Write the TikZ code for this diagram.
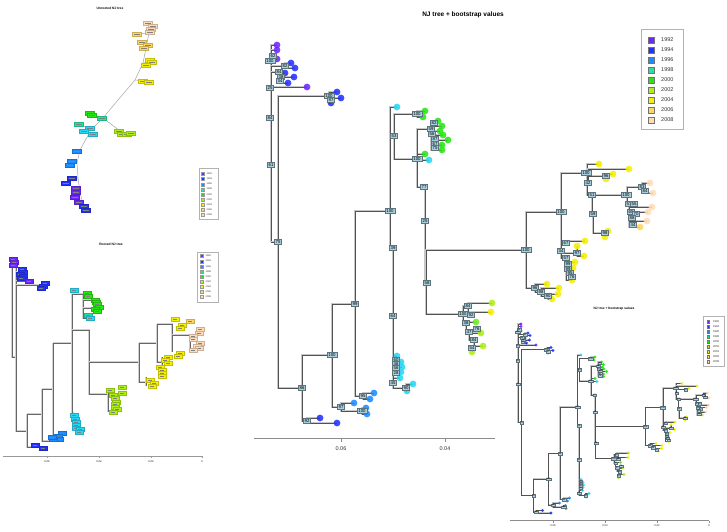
\documentclass[tikz,border=0pt]{standalone}
\usepackage{fontspec}
\setmainfont{Liberation Sans}
\definecolor{cA}{RGB}{110,40,255}
\definecolor{cB}{RGB}{35,50,255}
\definecolor{cC}{RGB}{30,140,255}
\definecolor{cD}{RGB}{30,230,160}
\definecolor{cE}{RGB}{40,230,20}
\definecolor{cF}{RGB}{175,240,20}
\definecolor{cG}{RGB}{245,240,0}
\definecolor{cH}{RGB}{255,215,95}
\definecolor{cI}{RGB}{255,220,185}
\definecolor{cX}{RGB}{40,215,245}
\definecolor{cEF}{RGB}{110,235,30}
\definecolor{bsfill}{RGB}{168,208,222}
\definecolor{bsdraw}{RGB}{95,115,125}
\tikzset{
 branch/.style={draw=black!68, line width=0.9pt, preaction={draw=black!22, line width=2.2pt}},
 tp/.style={circle, inner sep=0pt, minimum size=6.8pt, fill=#1, fill opacity=0.88},
 bs/.style={draw=bsdraw, fill=bsfill, line width=0.5pt, inner xsep=1.2pt, inner ysep=0.8pt, font=\fontsize{4.3}{4.3}\selectfont, text height=3.1pt, text depth=0pt},
 lsq/.style={draw=black!55, line width=0.4pt, minimum size=5.5pt, inner sep=0pt, fill=#1},
 ltx/.style={anchor=west, inner sep=0pt, font=\fontsize{5.5}{5.5}\selectfont, text=black!80},
 axl/.style={draw=black!45, line width=1pt},
 axt/.style={font=\fontsize{5.5}{5.5}\selectfont, text=black!80, inner sep=0pt},
 lb/.style={fill=#1, draw=#1!80!black, line width=0.2pt, minimum width=9pt, minimum height=4.2pt, inner sep=0pt,
   path picture={\fill[black!50] ([xshift=1.8pt,yshift=-0.4pt]path picture bounding box.west) rectangle ([xshift=-1.8pt,yshift=0.4pt]path picture bounding box.east);}},
 rlb/.style={lb=#1, minimum width=8pt, minimum height=3.6pt},
 ubr/.style={draw=black!35, line width=0.5pt},
 tbr/.style={draw=black!60, line width=0.5pt, preaction={draw=black!18, line width=1.3pt}},
 slsq/.style={fill=#1, draw=black!40, line width=0.15pt, minimum size=3pt, inner sep=0pt},
 sltx/.style={ltx, font=\fontsize{2.4}{2.4}\selectfont},
 ttl/.style={font=\bfseries\fontsize{3.3}{3.3}\selectfont, inner sep=0pt},
}
\newcommand\njplot[2]{%
 \node[font=\bfseries\fontsize{6.5}{7}\selectfont, inner sep=0pt] (title) at (463,15) {NJ tree + bootstrap values};
 \node[draw=black!30, line width=0.7pt, minimum width=42pt, minimum height=100pt, inner sep=0pt] (leg) at (662,79) {};
 \foreach \c/\yr [count=\i] in {cA/1992,cB/1994,cC/1996,cD/1998,cE/2000,cF/2002,cG/2004,cH/2006,cI/2008}{
   \node[lsq=\c] (lsq\i) at (651,30+10*\i) {};
   \node[ltx] (ltx\i) at (661,30+10*\i) {\yr};
 }
 \draw[axl] (254,438) -- (#1,438);
 \foreach \x/\l [count=\i] in {#2}{
   \draw[axl] (\x,438) -- (\x,442);
   \node[axt] (ax\i) at (\x,449) {\l};
 }
 \foreach \n/\x/\y in {rt/271/242, n75/278/242,
  t1/277/45, t2/277/50, t3/277/59, n82/285/66, t4/291/63, t5/295/68, n84/279/72, t6/285/73, n34/281/79, t7/294/77, t8/288/83, t9/307/87,
  n100a/329/96, t10/337/92, t11/341/98, t12/331/103,
  n86/302/388, n92/307/421, t13/320/418, t14/337/423,
  n100b/332/355, n97/341/407, t15/354/403, n100c/362/411, t16/366/408, t17/367/414,
  n99/355/304, n95/363/396, t18/374/393, t19/370/399,
  n100d/390/211, t20/397/107, n53/394/136, n100e/417/114, t21/425/111, t22/423/117,
  n100f/417/159, t23/425/154, t24/429/160, ngc/431/129,
  t25/438/121, t26/442/126, t27/440/131, t28/443/135, t29/448/140, t30/442/145, t31/442/150,
  n77/425/187, n25b/425/221, n58/426/283,
  n39/393/248, n64/393/316, t32/397/356, t33/401/362, t34/402/367, t35/401/372, t36/400/378, n45/393/383, n90/406/388, t37/413/384, t38/407/391,
  n100h/463/314, n84b/468/306, t39/492/303, t40/491/312, n38/466/323, t41/476/322, n47/469/332, t42/481/333, n84c/474/340, t43/483/346, n54/472/348, t44/472/352,
  n100g/526/250, n96/535/288, t45/547/284, n98/541/292, t46/559/288, n90b/548/296, t47/558/294, t48/552/299,
  n100i/561/212, n67/566/243, t49/585/241, n34b/561/251, n97b/577/253, t50/577/246, t51/584/256, n57/566/258, t52/575/262, t53/573/268, t54/572/280,
  n100j/587/173, t55/599/164, n42/588/183, t56/629/169, n96b/606/176, t57/613/174, t58/606/179, n51/592/195, n59/593/214, n98b/605/233, t59/608/231, t60/605/237,
  n100k/627/195, n83/642/187, t61/650/183, t62/653/193, n57b/629/204, t63/652/207, t64/648/212, t65/647/221, t66/640/227}
   \coordinate (\n) at (\x,\y);
 \foreach \a/\b in {rt/t1, rt/t2, rt/t3, rt/n82, rt/n84, rt/t9, rt/n75, n82/t4, n82/t5, n84/t6, n84/n34, n34/t7, n34/t8,
  n75/n100a, n75/n86, n100a/t10, n100a/t11, n100a/t12,
  n86/n92, n86/n100b, n92/t13, n92/t14, n100b/n99, n100b/n97, n97/t15, n97/n100c, n100c/t16, n100c/t17, n99/n95, n99/n100d, n95/t18, n95/t19,
  n100d/t20, n100d/n53, n53/n100e, n53/n100f, n100e/t21, n100e/t22, n100f/t23, n100f/t24, n100f/ngc, n100f/n77,
  ngc/t25, ngc/t26, ngc/t27, ngc/t28, ngc/t29, ngc/t30, ngc/t31, n77/n25b, n25b/n58,
  n100d/n39, n39/n64, n64/t32, n64/t33, n64/t34, n64/t35, n64/t36, n64/n45, n45/n90, n90/t37, n90/t38,
  n58/n100h, n58/n100g, n100h/n84b, n84b/t39, n84b/t40, n100h/n38, n38/t41, n38/n47, n47/t42, n47/n84c, n84c/t43, n84c/n54, n54/t44,
  n100g/n100i, n100g/n96, n96/t45, n96/n98, n98/t46, n98/n90b, n90b/t47, n90b/t48,
  n100i/n100j, n100i/n67, n67/t49, n100i/n34b, n34b/n97b, n97b/t50, n97b/t51, n34b/n57, n57/t52, n57/t53, n57/t54,
  n100j/t55, n100j/n42, n42/t56, n42/n96b, n96b/t57, n96b/t58, n100j/n51, n51/n100k, n51/n59, n59/n98b, n98b/t59, n98b/t60,
  n100k/n83, n83/t61, n83/t62, n100k/n57b, n57b/t63, n57b/t64, n57b/t65, n57b/t66}
   \draw[branch] (\a) |- (\b);
 \foreach \n/\c in {t1/cA,t2/cA,t3/cA,t4/cB,t5/cB,t6/cB,t7/cB,t8/cB,t9/cA,t10/cB,t11/cB,t12/cB,t13/cB,t14/cB,
  t15/cC,t16/cC,t17/cC,t18/cC,t19/cC,t20/cX,t21/cE,t22/cE,t23/cE,t24/cX,
  t25/cE,t26/cE,t27/cE,t28/cE,t29/cE,t30/cE,t31/cE,t32/cX,t33/cX,t34/cX,t35/cX,t36/cX,t37/cX,t38/cX,
  t39/cF,t40/cG,t41/cEF,t42/cF,t43/cF,t44/cF,t45/cG,t46/cG,t47/cG,t48/cG,
  t49/cG,t50/cG,t51/cG,t52/cG,t53/cG,t54/cG,t55/cG,t56/cG,t57/cG,t58/cG,t59/cG,t60/cG,
  t61/cI,t62/cI,t63/cI,t64/cI,t65/cI,t66/cH}
   \node[tp=\c] (c\n) at (\n) {};
 \foreach \x/\y/\t [count=\i] in {273/56/62, 270/61/100, 285/66/82, 279/72/84, 281/77/38, 280/81/34, 270/88/25, 270/118/84, 271/165/61, 278/242/75,
  329/96/100, 331/100/97,
  302/388/86, 307/421/92, 332/355/100, 341/407/97, 362/411/100, 355/304/99, 363/396/95,
  390/211/100, 394/136/53, 417/114/100, 417/159/100, 393/248/39, 393/316/64, 424/187/77, 425/221/25, 427/283/58,
  434/123/82, 431/129/59, 432/134/56, 435/139/87, 435/144/67, 435/148/75,
  396/360/60, 396/364/46, 396/368/56, 396/373/28, 393/383/45, 406/388/90,
  468/306/84, 463/314/100, 471/315/92, 466/323/38, 469/332/47, 477/329/76, 474/340/84, 472/348/54,
  526/250/100, 535/288/96, 541/292/98, 548/296/90, 561/212/100, 566/243/67, 561/251/34, 577/253/97, 566/258/57,
  568/264/99, 568/269/99, 570/273/95, 572/277/76,
  586/173/100, 606/176/96, 588/183/42, 592/195/51, 593/214/59, 605/233/98, 626/195/100, 642/187/83, 645/191/84,
  629/204/57, 634/204/55, 631/212/65, 636/214/70, 632/218/88, 633/225/44}
   \node[bs] (bx\i) at (\x,\y) {\t};
}
\begin{document}
\begin{tikzpicture}[x=1pt,y=-1pt]
\useasboundingbox (0,0) rectangle (727,531);
\fill[white] (0,0) rectangle (727,531);
% ---------- main plot ----------
\njplot{495}{341/0.06,445/0.04}
% ---------- unrooted NJ tree ----------
\node[ttl] (utitle) at (110,8) {Unrooted NJ tree};
\foreach \n/\x/\y in {u0/84/209, u1/80/192, u2/78/178, u3/77/163, u4/80/150, u5/86/139, u6/91/130, u7/103/118, u8/118/100, u9/135/80, u10/143/63, u11/146/48, u12/149/33}
  \coordinate (\n) at (\x,\y);
\draw[ubr] (u0) -- (u1) -- (u2) -- (u3) -- (u4) -- (u5) -- (u6) -- (u7) -- (u8) -- (u9) -- (u10) -- (u11) -- (u12);
\foreach \a/\x/\y in {u7/91/114, u7/120/131, u6/80/124, u6/89/130, u4/77/151, u3/71/162, u2/70/180, u1/76/192, u9/145/81, u10/149/62, u11/144/46, u12/151/26, u12/138/34, u0/85/208}
  \draw[ubr] (\a) -- (\x,\y);
\foreach \x/\y/\c [count=\i] in {148/23/cI, 153/26/cI, 151/29/cI, 150/32/cI, 137/34/cH, 142/42/cH, 148/45/cH, 144/48/cH,
  150/60/cG, 152/62/cG, 146/65/cG, 143/81/cG, 149/82/cG, 102/118/cD, 90/113/cE, 92/115/cE,
  119/131/cF, 122/134/cF, 127/134/cF, 131/133/cF, 79/124/cD, 90/128/cX, 84/131/cX, 93/134/cX,
  77/151/cC, 72/161/cC, 70/165/cC, 72/178/cB, 66/183/cB, 76/188/cA, 76/192/cA, 75/197/cA, 79/202/cA, 84/206/cB, 86/210/cB}
  \node[lb=\c] (ub\i) at (\x,\y) {};
% ---------- rooted NJ tree ----------
\node[ttl] (rtitle) at (111,244) {Rooted NJ tree};
\draw[tbr] (13,259) -- (12,259) -- (12,357) -- (16,357);
\draw[tbr] (12,262) -- (14,262);
\draw[tbr] (12,265) -- (13,265);
\draw[tbr] (16,268) -- (16,431) -- (27,431);
\draw[tbr] (16,272) -- (22,272);
\draw[tbr] (16,277) -- (22,277);
\draw[tbr] (16,281) -- (29,281);
\draw[tbr] (16,285) -- (40,285);
\draw[tbr] (27,414) -- (27,447) -- (33,447);
\draw[tbr] (27,414) -- (42,414);
\draw[tbr] (42,389) -- (42,441) -- (52,441);
\draw[tbr] (42,389) -- (53,389);
\draw[tbr] (53,343) -- (53,436) -- (57,436);
\draw[tbr] (53,343) -- (72,343);
\draw[tbr] (72,290) -- (72,413) -- (74,413);
\draw[tbr] (72,294) -- (83,294) -- (83,318) -- (88,318);
\draw[tbr] (83,300) -- (92,300);
\draw[tbr] (83,308) -- (92,308);
\draw[tbr] (72,330) -- (89,330) -- (89,394) -- (108,394);
\draw[tbr] (89,362) -- (139,362);
\draw[tbr] (108,388) -- (108,412);
\draw[tbr] (139,343) -- (139,382) -- (146,382);
\draw[tbr] (146,377) -- (146,386);
\draw[tbr] (139,343) -- (157,343);
\draw[tbr] (157,324) -- (157,362) -- (162,362);
\draw[tbr] (162,357) -- (162,376);
\draw[tbr] (157,324) -- (172,324) -- (172,352);
\draw[tbr] (172,335) -- (190,335) -- (190,348);
\foreach \x/\y/\c [count=\i] in {13/259/cA, 14/262/cA, 13/265/cA, 22/269/cB, 23/272/cB, 20/274/cB, 23/276/cB, 21/278/cB, 29/281/cA,
  45/283/cB, 43/286/cB, 41/288/cB, 74/290/cX,
  87/293/cE, 88/296/cE, 95/300/cE, 96/302/cE, 97/304/cE, 99/307/cE, 95/309/cE, 97/311/cE, 88/315/cD, 90/318/cX,
  175/319/cG, 190/321/cH, 182/325/cG, 180/328/cG, 200/329/cI, 199/333/cI, 193/336/cI, 193/339/cI, 200/343/cI, 197/346/cI, 199/348/cI, 193/350/cI,
  180/353/cG, 178/356/cG, 168/357/cG, 165/360/cG, 168/363/cG, 160/367/cG, 162/370/cG, 162/373/cG, 162/376/cG, 150/380/cG, 154/383/cG, 152/386/cG,
  122/387/cF, 122/393/cF, 110/390/cF, 113/395/cF, 115/398/cF, 116/402/cF, 115/404/cF, 115/407/cF, 117/409/cF, 113/412/cF,
  74/415/cX, 75/419/cX, 76/422/cX, 76/425/cX, 76/428/cX, 80/429/cX, 79/432/cX,
  62/433/cC, 58/436/cC, 59/439/cC, 53/439/cC, 52/437/cC, 35/445/cB, 43/448/cB}
  \node[rlb=\c] (rb\i) at (\x,\y) {};
\node[draw=black!30, line width=0.4pt, minimum width=21pt, minimum height=50pt, inner sep=0pt] (rleg) at (207.5,277) {};
\foreach \c/\yr [count=\i] in {cA/1992,cB/1994,cC/1996,cD/1998,cE/2000,cF/2002,cG/2004,cH/2006,cI/2008}{
  \node[slsq=\c] (rsq\i) at (202,250.9+5.1*\i) {};
  \node[sltx] (rtx\i) at (205.5,250.9+5.1*\i) {\yr};
}
\draw[draw=black!40, line width=0.6pt] (3,456) -- (202,456);
\foreach \x/\l [count=\i] in {47/0.06,99/0.04,151/0.02,202/0}{
  \draw[draw=black!40, line width=0.6pt] (\x,456) -- (\x,458);
  \node[font=\fontsize{2.6}{2.6}\selectfont, inner sep=0pt] (rax\i) at (\x,462) {\l};
}
% ---------- unrooted legend ----------
\node[draw=black!30, line width=0.4pt, minimum width=19pt, minimum height=51pt, inner sep=0pt] (uleg) at (208.5,193.5) {};
\foreach \c/\yr [count=\i] in {cA/1992,cB/1994,cC/1996,cD/1998,cE/2000,cF/2002,cG/2004,cH/2006,cI/2008}{
  \node[slsq=\c] (usq\i) at (203,168.95+5.05*\i) {};
  \node[sltx] (utx\i) at (206.5,168.95+5.05*\i) {\yr};
}
% ---------- small copy ----------
\begin{scope}[shift={(382.5,301.5)}, scale=0.5, transform shape, name prefix=s-,
  branch/.style={draw=black!68, line width=0.5pt, preaction={draw=black!22, line width=1.2pt}},
  bs/.append style={line width=0.3pt}, axl/.append style={line width=0.6pt}, lsq/.append style={line width=0.25pt}]
  \fill[white] (227,7) rectangle (689,459);
  \njplot{653}{341/0.06,445/0.04,549/0.02,653/0}
\end{scope}
\end{tikzpicture}
\end{document}
